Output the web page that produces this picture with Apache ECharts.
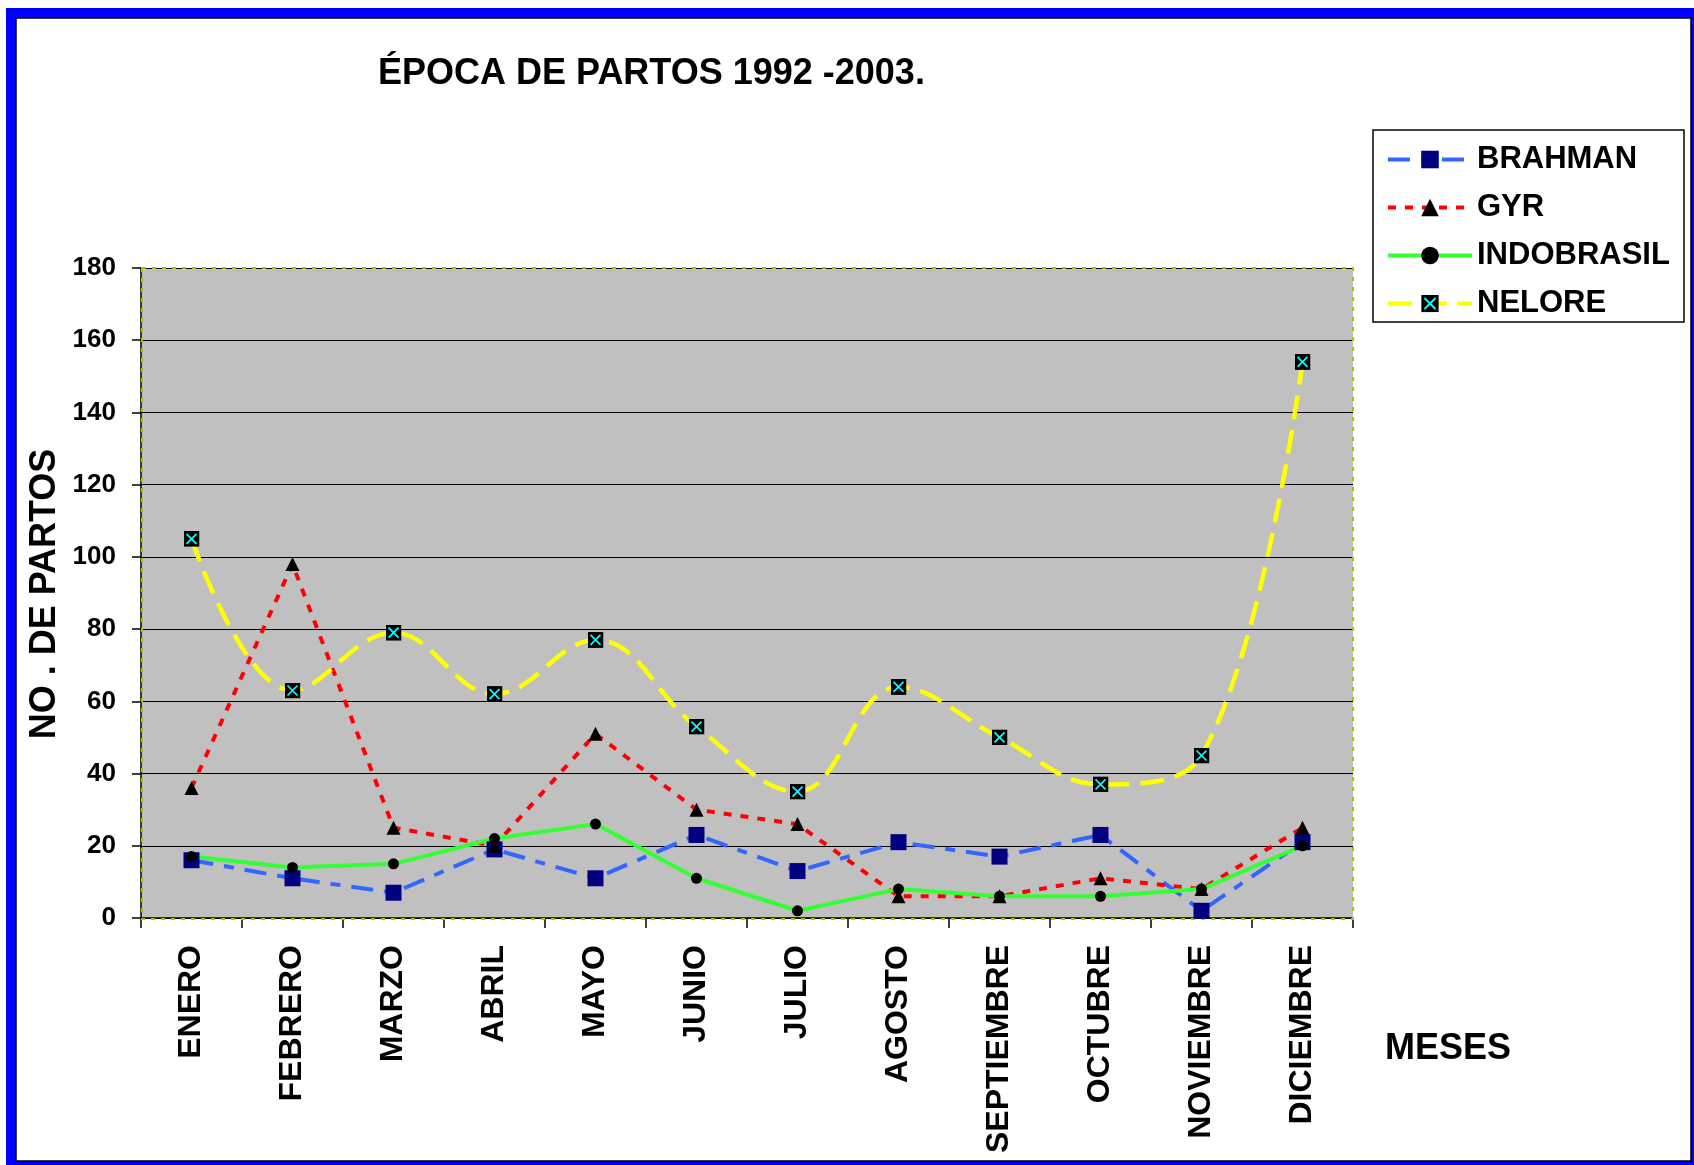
<!DOCTYPE html>
<html>
<head>
<meta charset="utf-8">
<title>Época de partos 1992-2003</title>
<script src="https://cdn.jsdelivr.net/npm/echarts@6/dist/echarts.min.js"></script>
<style>
  html, body { margin: 0; padding: 0; background: #ffffff; }
  #chart { width: 1694px; height: 1165px; }
</style>
</head>
<body>
<div id="chart"></div>
<script>
// Months of the year (category axis)
const months = ['ENERO', 'FEBRERO', 'MARZO', 'ABRIL', 'MAYO', 'JUNIO', 'JULIO',
                'AGOSTO', 'SEPTIEMBRE', 'OCTUBRE', 'NOVIEMBRE', 'DICIEMBRE'];

// Number of calvings per month, by breed
const brahman    = [16, 11, 7, 19, 11, 23, 13, 21, 17, 23, 2, 21];
const gyr        = [36, 98, 25, 20, 51, 30, 26, 6, 6, 11, 8, 25];
const indobrasil = [17, 14, 15, 22, 26, 11, 2, 8, 6, 6, 8, 20];
const nelore     = [105, 63, 79, 62, 77, 53, 35, 64, 50, 37, 45, 154];

// Value axis range
const yMin = 0, yMax = 180, yStep = 20;

const FONT = "'Liberation Sans', Arial, Helvetica, sans-serif";
const GRID = { left: 141, top: 268, width: 1212, height: 650 };

// Black square with a cyan cross, used for the NELORE markers
const neloreSvg =
  "<svg xmlns='http://www.w3.org/2000/svg' width='32' height='32' viewBox='0 0 32 32'>" +
  "<rect x='0' y='0' width='32' height='32' fill='#000000'/>" +
  "<path d='M6 6 L26 26 M26 6 L6 26' stroke='#00FFFF' stroke-width='3.5' fill='none'/>" +
  "</svg>";
const neloreSymbol = 'image://data:image/svg+xml;charset=utf-8,' + encodeURIComponent(neloreSvg);

const chart = echarts.init(document.getElementById('chart'), null, { renderer: 'canvas' });

const option = {
  backgroundColor: 'transparent',
  animation: false,
  grid: {
    left: GRID.left, top: GRID.top, width: GRID.width, height: GRID.height,
    show: true, backgroundColor: '#C0C0C0', borderWidth: 0,
    containLabel: false
  },
  legend: {
    orient: 'vertical',
    left: 1381, top: 139,
    itemWidth: 84, itemHeight: 22, itemGap: 17,
    lineStyle: { width: 4 },
    textStyle: { fontFamily: FONT, fontWeight: 'bold', fontSize: 31, color: '#000', lineHeight: 31 },
    data: ['BRAHMAN', 'GYR', 'INDOBRASIL', 'NELORE']
  },
  xAxis: {
    type: 'category',
    data: months,
    boundaryGap: true,
    axisLine: { show: true, lineStyle: { color: '#000', width: 1.5 } },
    axisTick: { show: true, alignWithLabel: false, length: 10, lineStyle: { color: '#000', width: 1.5 } },
    axisLabel: {
      rotate: 90, margin: 27, interval: 0,
      fontFamily: FONT, fontWeight: 'bold', fontSize: 32, color: '#000'
    },
    splitLine: { show: false }
  },
  yAxis: {
    type: 'value',
    min: yMin, max: yMax, interval: yStep,
    axisLine: { show: true, lineStyle: { color: '#000', width: 1.5 } },
    axisTick: { show: true, length: 9, lineStyle: { color: '#000', width: 1.5 } },
    axisLabel: { margin: 25, fontFamily: FONT, fontWeight: 'bold', fontSize: 26, color: '#000' },
    splitLine: { show: true, lineStyle: { color: '#000', width: 1.2 } }
  },
  series: [
    {
      name: 'BRAHMAN', type: 'line', data: brahman,
      symbol: 'rect', symbolSize: 16,
      itemStyle: { color: '#000080' },
      lineStyle: { color: '#3366FF', width: 4, type: [22, 11, 10, 11] }
    },
    {
      name: 'GYR', type: 'line', data: gyr,
      symbol: 'triangle', symbolSize: 14,
      itemStyle: { color: '#000000' },
      lineStyle: { color: '#FF0000', width: 4, type: [8, 9] }
    },
    {
      name: 'INDOBRASIL', type: 'line', data: indobrasil,
      symbol: 'circle', symbolSize: 11,
      itemStyle: { color: '#000000' },
      lineStyle: { color: '#33FF33', width: 4, type: 'solid' }
    },
    {
      name: 'NELORE', type: 'line', data: nelore,
      smooth: 0.4,
      symbol: neloreSymbol, symbolSize: 16,
      itemStyle: { color: '#000000' },
      lineStyle: { color: '#FFFF00', width: 4.5, type: [24, 11] }
    }
  ],
  graphic: [
    // blue frame with black-edged white page
    { type: 'rect', z: -100, silent: true,
      shape: { x: 6, y: 8, width: 1688, height: 1157 },
      style: { fill: '#0000FF' } },
    { type: 'rect', z: -99, silent: true,
      shape: { x: 16, y: 18, width: 1675, height: 1143 },
      style: { fill: '#FFFFFF', stroke: '#000000', lineWidth: 1.5 } },
    // dotted green border of the plot area
    { type: 'rect', z: 1, silent: true,
      shape: { x: GRID.left + 1, y: GRID.top, width: GRID.width - 1, height: GRID.height + 1 },
      style: { fill: null, stroke: '#99CC00', lineWidth: 2, lineDash: [4, 6] } },
    // legend box
    { type: 'rect', z: -50, silent: true,
      shape: { x: 1373, y: 130, width: 311, height: 192 },
      style: { fill: '#FFFFFF', stroke: '#000000', lineWidth: 1.5 } },
    // chart title
    { type: 'text', z: 10, silent: true,
      x: 378, y: 74,
      style: { text: 'ÉPOCA DE PARTOS 1992 -2003.', fill: '#000', align: 'left', verticalAlign: 'middle',
               font: 'bold 36px ' + FONT } },
    // value axis title
    { type: 'text', z: 10, silent: true,
      x: 45, y: 594, rotation: Math.PI / 2,
      style: { text: 'NO . DE PARTOS', fill: '#000', align: 'center', verticalAlign: 'middle',
               font: 'bold 36px ' + FONT } },
    // category axis title
    { type: 'text', z: 10, silent: true,
      x: 1448, y: 1049,
      style: { text: 'MESES', fill: '#000', align: 'center', verticalAlign: 'middle',
               font: 'bold 36px ' + FONT } }
  ]
};

chart.setOption(option);
</script>
</body>
</html>
